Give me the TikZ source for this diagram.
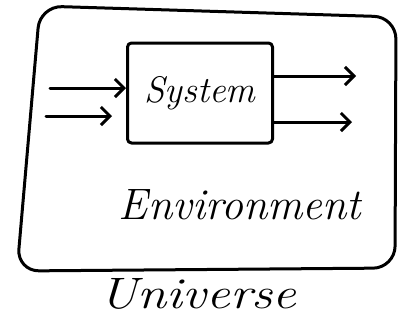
\documentclass[tikz,border=0pt]{standalone}
\usetikzlibrary{arrows.meta}
\begin{document}
\begin{tikzpicture}[x=1pt,y=-1pt,
  ink/.style={line width=3pt, line cap=round, line join=round},
  flow/.style={ink, -{Straight Barb[length=9pt,width=18pt,line width=3pt]}},
  txt/.style={font=\itshape, inner sep=0pt}]
  \useasboundingbox (0,0) rectangle (407,322);
  % universe boundary
  \draw[ink, rounded corners=22pt] (40,6) -- (396,17) -- (395,268) -- (17,271) -- cycle;
  % system box
  \node[ink, draw, rounded corners=4pt, minimum width=145pt, minimum height=100pt,
        font=\itshape\fontsize{37}{40}\selectfont] (sys) at (200,93) {System};
  % inputs
  \coordinate (in1) at (50,88);
  \coordinate (in2) at (46,116);
  \draw[flow] (in1) -- (in1 -| sys.west);
  \draw[flow] (in2) -- ([xshift=-14pt]in2 -| sys.west);
  % outputs
  \coordinate (out1) at (356,76);
  \coordinate (out2) at (352,122);
  \draw[flow] (out1 -| sys.east) -- (out1);
  \draw[flow] (out2 -| sys.east) -- (out2);
  % labels
  \node[txt, font=\itshape\fontsize{44}{48}\selectfont] (env) at (240,205) {Environment};
  \node[txt, font=\itshape\fontsize{44}{48}\selectfont, xscale=1.2] (uni) at (198,294) {Universe};
\end{tikzpicture}
\end{document}
